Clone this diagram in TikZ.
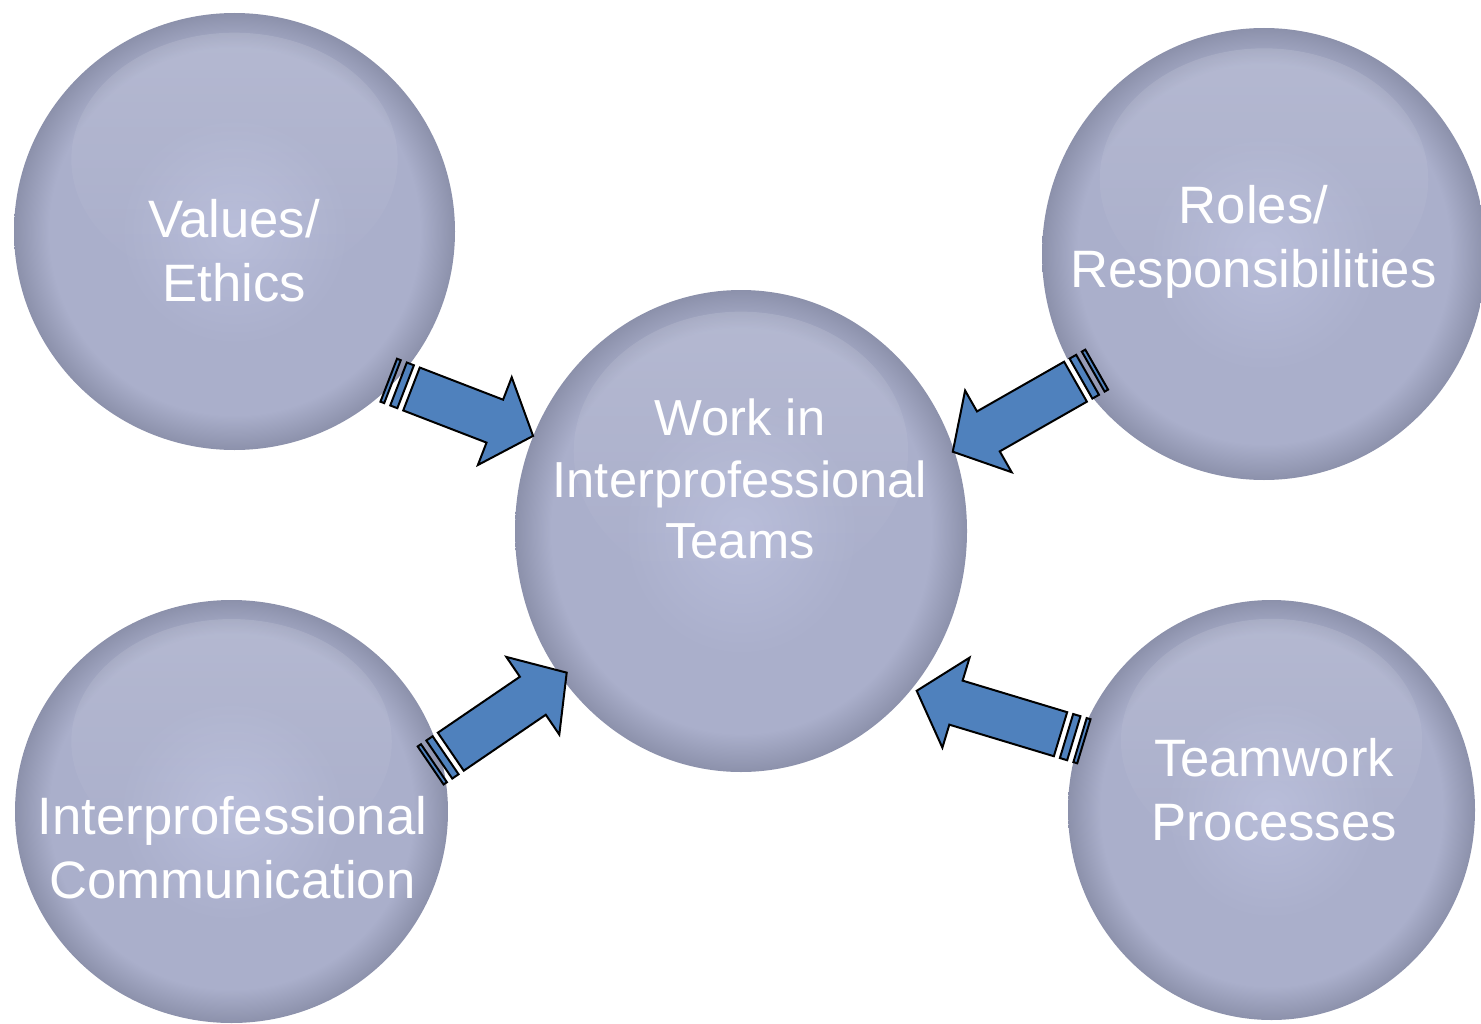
\documentclass[tikz,border=0pt]{standalone}
\usepackage{fontspec}
\setmainfont{Liberation Sans}
\usetikzlibrary{fadings,shapes.geometric}
\definecolor{arrowblue}{RGB}{79,129,189}
\definecolor{ballin}{RGB}{183,188,217}
\definecolor{ballmid}{RGB}{170,175,203}
\definecolor{ballout}{RGB}{140,145,171}
\pgfdeclareradialshading{ballshade}{\pgfpoint{0bp}{0bp}}{color(0bp)=(ballin); color(13bp)=(ballmid); color(21bp)=(ballmid); color(25bp)=(ballout); color(50bp)=(ballout)}
\tikzfading[name=hlfade, top color=transparent!0, middle color=transparent!100, bottom color=transparent!100]
\tikzset{
  ball/.style={ellipse, inner sep=0pt, shading=ballshade},
  balltext/.style={align=center, text=white, inner sep=0pt, font=\fontsize{39.5}{48}\selectfont},
  centertext/.style={align=center, text=white, inner sep=0pt, font=\fontsize{38}{46}\selectfont},
  arrowline/.style={draw=black, fill=arrowblue, line width=1.5pt, line join=miter},
}
\newcommand\glossball[5]{%
  \node[ball, minimum width={#4*1.5pt}, minimum height={#5*1.5pt}] (#1) at (#2,#3) {};
  \fill[white, fill opacity=0.12, path fading=hlfade] (#2,#3+0.33*#5) ellipse [x radius=0.74*#4, y radius=0.58*#5];
}
\newcommand\stripearrow[3]{%
  \begin{scope}[shift={(#1)}, rotate=#2]
    \fill[white] (-6.3,-23) rectangle (0,23);
    \draw[arrowline] (-24.4,-23) rectangle (-20.4,23);
    \draw[arrowline] (-13.9,-23) rectangle (-6.3,23);
    \draw[arrowline] (0,-23) -- (#3-41,-23) -- (#3-41,-47) -- (#3,0) -- (#3-41,47) -- (#3-41,23) -- (0,23) -- cycle;
  \end{scope}}
\begin{document}
\begin{tikzpicture}[x=0.75pt, y=0.75pt]
\useasboundingbox (0,0) rectangle (1481,-1024);
% balls
\glossball{values}{234.5}{-231.5}{220.5}{218.5}
\glossball{roles}{1264}{-254}{222}{226}
\glossball{work}{741}{-531}{226}{241}
\glossball{comm}{231.5}{-811.5}{216.5}{211.5}
\glossball{team}{1271.5}{-810}{203.5}{210}
% texts
\node[balltext] (valuesT) at (234,-250.5) {Values/\\Ethics};
\node[balltext] (rolesT) at (1253.5,-242) {Roles/\\Responsibilities};
\node[centertext] (workT) at (740,-479) {Work in\\Interprofessional\\Teams};
\node[balltext] (commT) at (232.5,-847.5) {Interprofessional\\Communication};
\node[balltext] (teamT) at (1274,-790) {Teamwork\\Processes};
% arrow anchors
\coordinate (a1) at (411.5,-389);
\coordinate (a2) at (1075.5,-381.7);
\coordinate (a3) at (450.8,-751.7);
\coordinate (a4) at (1060.5,-734.2);
\stripearrow{a1}{-21.1}{130.3}
\stripearrow{a2}{209.7}{141.3}
\stripearrow{a3}{34.3}{140.3}
\stripearrow{a4}{163.2}{150.2}
\end{tikzpicture}
\end{document}
